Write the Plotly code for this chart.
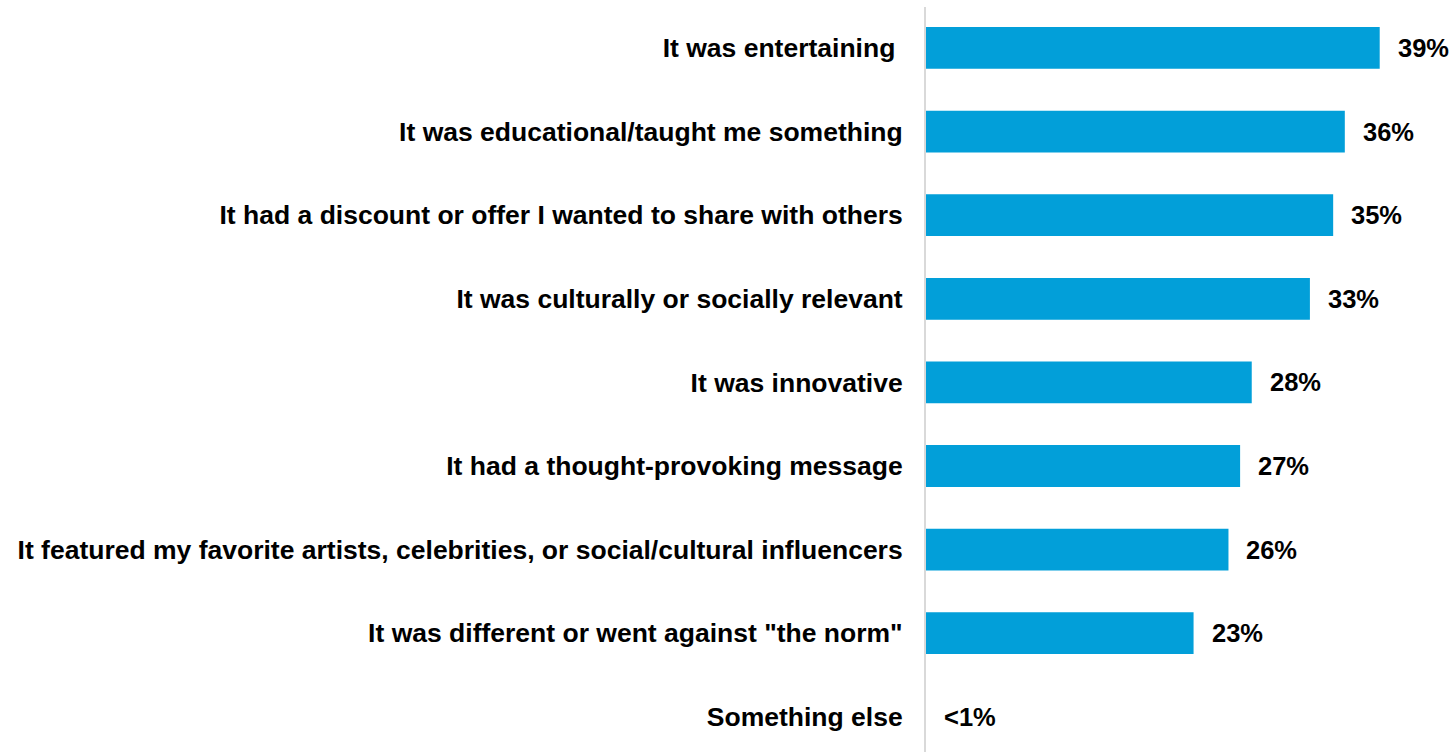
import plotly.graph_objects as go

categories = [
    "It was entertaining ",
    "It was educational/taught me something",
    "It had a discount or offer I wanted to share with others",
    "It was culturally or socially relevant",
    "It was innovative",
    "It had a thought-provoking message",
    "It featured my favorite artists, celebrities, or social/cultural influencers",
    "It was different or went against \"the norm\"",
    "Something else",
]
values = [39, 36, 35, 33, 28, 27, 26, 23, 0]
value_labels = ["39%", "36%", "35%", "33%", "28%", "27%", "26%", "23%", "<1%"]

BAR_COLOR = "#029FD9"
FONT = "Liberation Sans, Arial, sans-serif"

positions = list(range(len(categories)))

fig = go.Figure(
    go.Bar(
        x=values,
        y=positions,
        orientation="h",
        marker=dict(color=BAR_COLOR, line=dict(width=0)),
        width=0.5,
        hoverinfo="skip",
    )
)

for pos, val, lab in zip(positions, values, value_labels):
    fig.add_annotation(
        x=val, y=pos, text=f"<b>{lab}</b>", showarrow=False,
        xanchor="left", yanchor="middle", xshift=16,
        font=dict(family=FONT, size=25.5, color="#000000"),
    )

fig.update_layout(
    width=1453, height=752,
    margin=dict(l=926, r=0, t=7, b=0),
    paper_bgcolor="white", plot_bgcolor="white",
    showlegend=False,
    font=dict(family=FONT, size=26, color="#000000"),
)
fig.update_xaxes(range=[0, 45.3], visible=False, fixedrange=True)
fig.update_yaxes(
    range=[8.421, -0.490],
    tickmode="array", tickvals=positions,
    ticktext=[f"<b>{c}</b>" for c in categories],
    showline=True, linecolor="#D9D9D9", linewidth=2,
    showgrid=False, zeroline=False, ticks="",
    ticklabelstandoff=16,
    tickfont=dict(family=FONT, size=26.5, color="#000000"),
    fixedrange=True,
)

fig.write_html("out.html")
